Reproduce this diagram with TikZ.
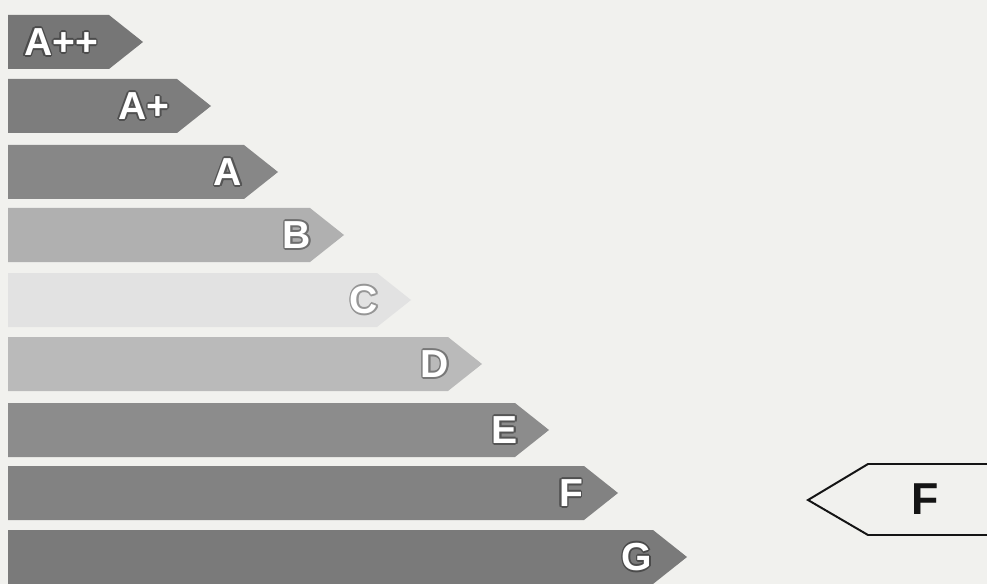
\documentclass[tikz,border=0pt]{standalone}
\usepackage{fontspec}
\setmainfont{Liberation Sans}
\usetikzlibrary{calc}
\definecolor{paper}{RGB}{241,241,238}
\definecolor{markink}{RGB}{20,20,20}

\tikzset{
  classletter/.style={font=\fontsize{27.8}{30}\selectfont\bfseries, inner sep=0pt},
  markletter/.style={font=\fontsize{31.8}{34}\selectfont\bfseries, inner sep=0pt, text=markink},
  markbox/.style={draw=markink, line width=1.4pt, line join=miter}
}

\begin{document}
\begin{tikzpicture}[x=0.025cm,y=-0.025cm]
  \fill[paper] (0,0) rectangle (987,584);
  \useasboundingbox (0,0) rectangle (987,584);
  \clip (0,0) rectangle (987,584);
  % class bars, top to bottom
  \foreach \ytop/\tip/\lx/\shade/\rim/\cls [count=\n] in
    {15/143/61/118/75/A++, 79/211/144/125/80/A+, 145/278/228/135/85/A,
     208/344/297/176/110/B, 273/411/364/226/150/C, 337/482/435/186/120/D,
     403/549/505/140/85/E, 466/618/571/130/80/F, 530/687/637/122/75/G}{
    \definecolor{barfill}{RGB}{\shade,\shade,\shade}
    \definecolor{rimfill}{RGB}{\rim,\rim,\rim}
    \fill[barfill] (8,\ytop) -- (\tip-34,\ytop) -- (\tip,\ytop+27)
      -- (\tip-34,\ytop+54) -- (8,\ytop+54) -- cycle;
    \foreach \ang in {0,45,...,315}
      \node[classletter, text=rimfill] at ($(\lx,\ytop+27)+(\ang:1.6)$) {\cls};
    \node[classletter, text=white] (cls\n) at (\lx,\ytop+27) {\cls};
  }
  % rating marker
  \draw[markbox] (1000,464) -- (868,464) -- (808,500) -- (868,535) -- (1000,535);
  \node[markletter] (rating) at (925,499) {F};
\end{tikzpicture}
\end{document}
